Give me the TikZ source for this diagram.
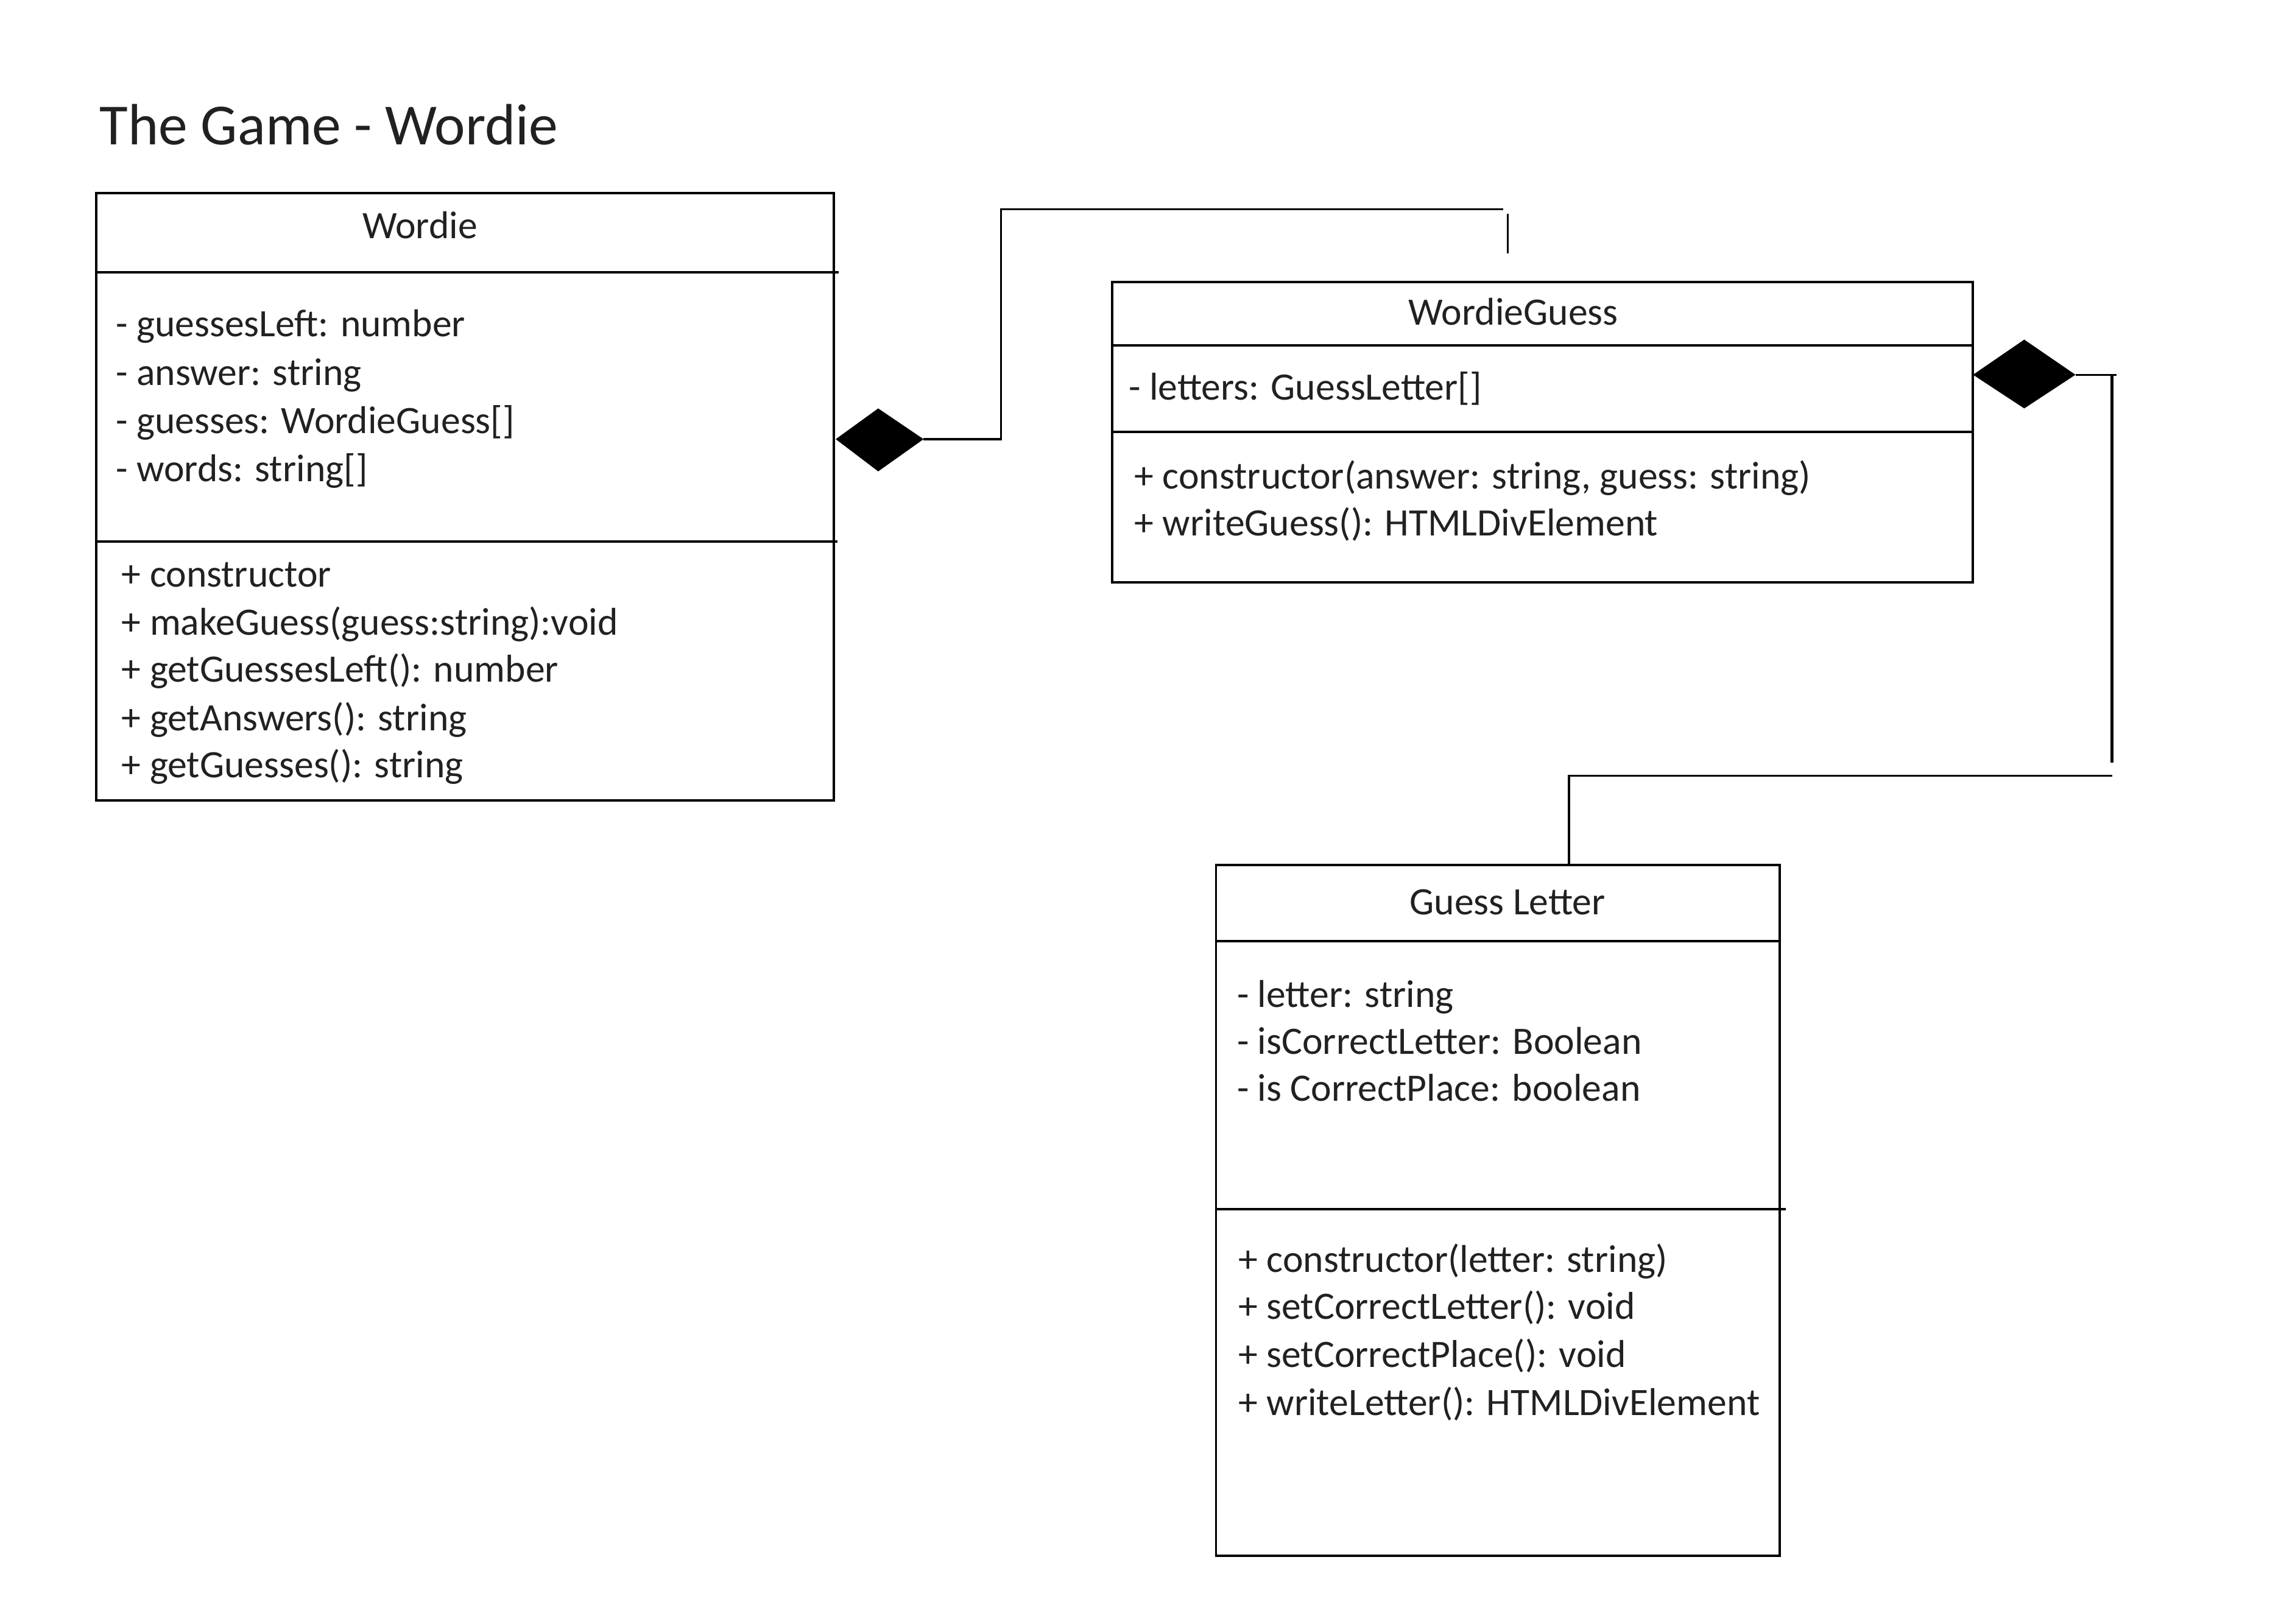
\documentclass[tikz,border=0pt]{standalone}
\usepackage{fontspec}
\setmainfont{Carlito}
\definecolor{textc}{gray}{0.13}
\tikzset{
  umlbox/.style={draw=black, line width=1.6pt, fill=none, inner sep=0pt, anchor=north west},
  divider/.style={draw=black, line width=1.6pt},
  conn/.style={draw=black, line width=1.4pt},
  connthick/.style={draw=black, line width=2pt},
  body/.style={font=\fontsize{26.5}{32}\selectfont, text=textc, inner sep=0pt},
  attr/.style={body, anchor=base west},
  cname/.style={body, anchor=base},
  heading/.style={font=\fontsize{39.8}{46}\selectfont, text=textc, inner sep=0pt, anchor=base west},
}
\begin{document}
\begin{tikzpicture}[x=1pt,y=-1pt]
\useasboundingbox (0,0) rectangle (1568,1109);

\node[heading] (title) at (68,99) {The Game - Wordie};

% ---------- Wordie ----------
\node[umlbox, minimum width=504pt, minimum height=415pt] (wordie) at (65,131) {};
\draw[divider] (65,186) -- (573,186);
\draw[divider] (65,370) -- (572,370);
\node[cname] (wname) at (287,163) {Wordie};
\node[attr] (wa1) at (79,230) {- guessesLeft: number};
\node[attr] (wa2) at (79,263) {- answer: string};
\node[attr] (wa3) at (79,296) {- guesses: WordieGuess[]};
\node[attr] (wa4) at (79,329) {- words: string[]};
\node[attr] (wm1) at (83,401) {+ constructor};
\node[attr] (wm2) at (83,434) {+ makeGuess(guess:string):void};
\node[attr] (wm3) at (83,466) {+ getGuessesLeft(): number};
\node[attr] (wm4) at (83,499) {+ getAnswers(): string};
\node[attr] (wm5) at (83,531) {+ getGuesses(): string};

% ---------- WordieGuess ----------
\node[umlbox, minimum width=588pt, minimum height=205pt] (wguess) at (759,192) {};
\draw[divider] (759,236) -- (1347,236);
\draw[divider] (759,295) -- (1347,295);
\node[cname] (gname) at (1034,222) {WordieGuess};
\node[attr] (ga1) at (771,273) {- letters: GuessLetter[]};
\node[attr] (gm1) at (775,334) {+ constructor(answer: string, guess: string)};
\node[attr] (gm2) at (775,366) {+ writeGuess(): HTMLDivElement};

% ---------- Guess Letter ----------
\node[umlbox, minimum width=385pt, minimum height=472pt] (gletter) at (830,590) {};
\draw[divider] (830,643) -- (1215,643);
\draw[divider] (830,826) -- (1220,826);
\node[cname] (lname) at (1030,625) {Guess Letter};
\node[attr] (la1) at (845,688) {- letter: string};
\node[attr] (la2) at (845,720) {- isCorrectLetter: Boolean};
\node[attr] (la3) at (845,752) {- is CorrectPlace: boolean};
\node[attr] (lm1) at (846,869) {+ constructor(letter: string)};
\node[attr] (lm2) at (846,901) {+ setCorrectLetter(): void};
\node[attr] (lm3) at (846,934) {+ setCorrectPlace(): void};
\node[attr] (lm4) at (846,967) {+ writeLetter(): HTMLDivElement};

% ---------- Composition Wordie <- WordieGuess ----------
\coordinate (d1w) at (571,300);
\coordinate (d1n) at (600,279);
\coordinate (d1e) at (631,300);
\coordinate (d1s) at (600,322);
\fill[black] (d1w) -- (d1n) -- (d1e) -- (d1s) -- cycle;
\coordinate (c1a) at (684,300);
\coordinate (c1b) at (684,143);
\coordinate (c1c) at (1027,143);
\draw[conn] (d1e) -- (c1a) -- (c1b) -- (c1c);
\coordinate (s1a) at (1030,146);
\coordinate (s1b) at (1030,173);
\draw[conn] (s1a) -- (s1b);

% ---------- Composition WordieGuess <- GuessLetter ----------
\coordinate (d2w) at (1348,256);
\coordinate (d2n) at (1383,232);
\coordinate (d2e) at (1418,256);
\coordinate (d2s) at (1383,279);
\fill[black] (d2w) -- (d2n) -- (d2e) -- (d2s) -- cycle;
\coordinate (c2a) at (1446,256);
\draw[conn] (d2e) -- (c2a);
\coordinate (v2a) at (1443,256);
\coordinate (v2b) at (1443,521);
\draw[connthick] (v2a) -- (v2b);
\coordinate (h2a) at (1443,530);
\coordinate (h2b) at (1072,530);
\draw[conn] (h2a) -- (h2b) -- (gletter.north -| h2b);
\end{tikzpicture}
\end{document}
